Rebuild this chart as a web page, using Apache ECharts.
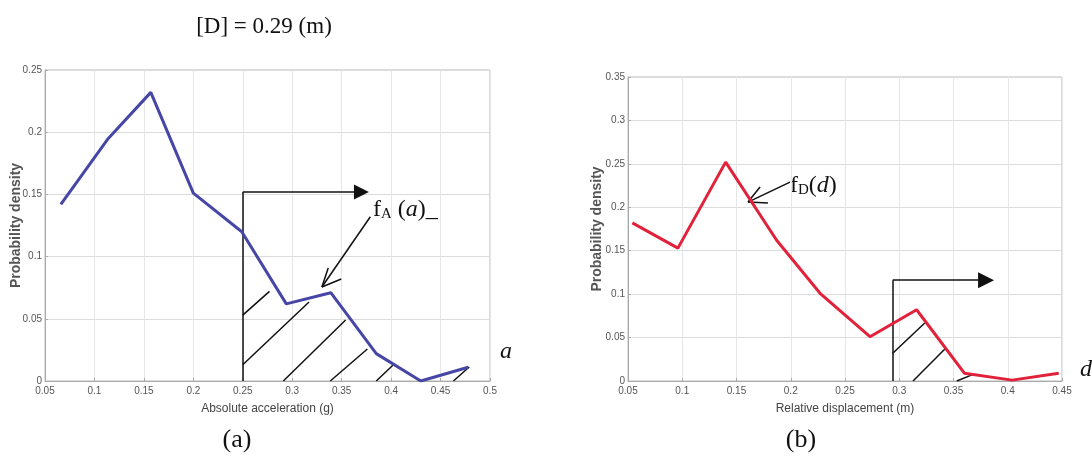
<!DOCTYPE html>
<html><head><meta charset="utf-8">
<script src="https://cdn.jsdelivr.net/npm/echarts@6/dist/echarts.min.js"></script>
<style>html,body{margin:0;padding:0;background:#fff}#c{width:1092px;height:462px}</style>
</head><body><div id="c"></div>
<script>
// ---- data ----
const accelX = [0.066, 0.114, 0.157, 0.200, 0.249, 0.294, 0.339, 0.385, 0.430, 0.478];
const densA  = [0.142, 0.195, 0.232, 0.151, 0.120, 0.062, 0.071, 0.022, 0.000, 0.011];
const dispX  = [0.054, 0.096, 0.140, 0.187, 0.227, 0.273, 0.316, 0.360, 0.404, 0.447];
const densD  = [0.182, 0.153, 0.252, 0.162, 0.101, 0.051, 0.082, 0.009, 0.001, 0.009];

const titleText = '[D] = 0.29 (m)';
const xNameA = 'Absolute acceleration (g)';
const xNameD = 'Relative displacement (m)';
const yName = 'Probability density';

// annotation geometry in data units
const limitA = 0.25, boxTopA = 0.152, arrowEndA = 0.370;
const limitD = 0.294, boxTopD = 0.116, arrowEndD = 0.380;
const hatchA = [
  [[0.25, 0.053], [0.277, 0.072]],
  [[0.25, 0.013], [0.317, 0.0635]],
  [[0.291, 0], [0.354, 0.049]],
  [[0.3385, 0], [0.376, 0.0257]],
  [[0.385, 0], [0.402, 0.0129]],
  [[0.463, 0], [0.479, 0.0113]]
];
const pointerA = [[[0.379, 0.132], [0.330, 0.0756]], [[0.330, 0.0756], [0.3496, 0.082]], [[0.330, 0.0756], [0.3364, 0.0909]]];
const hatchD = [
  [[0.294, 0.032], [0.3235, 0.0668]],
  [[0.3127, 0], [0.343, 0.038]],
  [[0.353, 0], [0.367, 0.007]]
];
const pointerD = [[[0.1993, 0.229], [0.1606, 0.206]], [[0.1606, 0.206], [0.179, 0.205]], [[0.1606, 0.206], [0.1717, 0.2233]]];

const chart = echarts.init(document.getElementById('c'), null, {renderer: 'canvas'});
const tickFont = {fontFamily: "'Liberation Sans Narrow','Liberation Sans',sans-serif", fontSize: 10, color: '#555'};
function xAxis(idx, min, max, name) {
  return {type: 'value', gridIndex: idx, min: min, max: max, interval: 0.05,
    name: name, nameLocation: 'middle', nameGap: 22,
    nameTextStyle: {fontFamily: "'Liberation Sans Narrow','Liberation Sans',sans-serif", fontSize: 12, color: '#444'},
    axisLine: {show: true, lineStyle: {color: '#aaa'}},
    axisTick: {show: true, inside: true, length: 3, lineStyle: {color: '#aaa'}},
    axisLabel: Object.assign({margin: 5}, tickFont),
    splitLine: {show: true, lineStyle: {color: '#e6e6e6'}}};
}
function yAxis(idx, max, gap) {
  return {type: 'value', gridIndex: idx, min: 0, max: max, interval: 0.05,
    name: yName, nameLocation: 'middle', nameGap: gap, nameMoveOverlap: false,
    nameTextStyle: {fontFamily: "'Liberation Sans','Arial',sans-serif", fontSize: 14, fontWeight: 'bold', color: '#555'},
    axisLine: {show: true, lineStyle: {color: '#aaa'}},
    axisTick: {show: true, inside: true, length: 3, lineStyle: {color: '#aaa'}},
    axisLabel: Object.assign({margin: 3}, tickFont),
    splitLine: {show: true, lineStyle: {color: '#dcdcdc'}}};
}
function segs(idx, list, extra) {
  return Object.assign({type: 'lines', coordinateSystem: 'cartesian2d', xAxisIndex: idx, yAxisIndex: idx,
    silent: true, symbol: 'none', z: 3,
    lineStyle: {color: '#111', width: 1.5, opacity: 1, curveness: 0},
    data: list.map(c => ({coords: c}))}, extra || {});
}
const serif = "'Liberation Serif','Times New Roman',serif";
chart.setOption({
  animation: false,
  grid: [
    {left: 45, right: 602, top: 70, bottom: 81, show: true, borderColor: '#bbb', borderWidth: 1},
    {left: 628, right: 30, top: 77, bottom: 81, show: true, borderColor: '#bbb', borderWidth: 1}
  ],
  xAxis: [xAxis(0, 0.05, 0.5, xNameA), xAxis(1, 0.05, 0.45, xNameD)],
  yAxis: [yAxis(0, 0.25, 22), yAxis(1, 0.35, 24)],
  series: [
    {type: 'line', xAxisIndex: 0, yAxisIndex: 0, showSymbol: false, symbol: 'none', z: 4,
      lineStyle: {color: '#4646a6', width: 3}, data: accelX.map((x, i) => [x, densA[i]])},
    {type: 'line', xAxisIndex: 1, yAxisIndex: 1, showSymbol: false, symbol: 'none', z: 4,
      lineStyle: {color: '#e2213a', width: 3}, data: dispX.map((x, i) => [x, densD[i]])},
    segs(0, hatchA.concat(pointerA).concat([[[limitA, 0], [limitA, boxTopA]]])),
    segs(0, [[[limitA, boxTopA], [arrowEndA, boxTopA]]], {symbol: ['none', 'triangle'], symbolSize: [13, 15]}),
    segs(1, hatchD.concat(pointerD).concat([[[limitD, 0], [limitD, boxTopD]]])),
    segs(1, [[[limitD, boxTopD], [arrowEndD, boxTopD]]], {symbol: ['none', 'triangle'], symbolSize: [14, 16]})
  ],
  graphic: [
    {type: 'text', x: 264, y: 27, style: {text: titleText, font: "23px " + serif, fill: '#111', textAlign: 'center', textVerticalAlign: 'middle'}},
    {type: 'text', x: 237, y: 440, style: {text: '(a)', font: "26px " + serif, fill: '#111', textAlign: 'center', textVerticalAlign: 'middle'}},
    {type: 'text', x: 801, y: 440, style: {text: '(b)', font: "26px " + serif, fill: '#111', textAlign: 'center', textVerticalAlign: 'middle'}},
    {type: 'text', x: 506, y: 352, style: {text: 'a', font: "italic 24px " + serif, fill: '#111', textAlign: 'center', textVerticalAlign: 'middle'}},
    {type: 'text', x: 1086, y: 370, style: {text: 'd', font: "italic 24px " + serif, fill: '#111', textAlign: 'center', textVerticalAlign: 'middle'}},
    {type: 'text', x: 373, y: 194, style: {
      text: '{f|f}{s|A}{t| (}{i|a}{t|)_}', fill: '#111',
      rich: {f: {fontFamily: serif, fontSize: 24, lineHeight: 28, verticalAlign: 'bottom'},
             s: {fontFamily: serif, fontSize: 15, lineHeight: 28, verticalAlign: 'bottom'},
             t: {fontFamily: serif, fontSize: 24, lineHeight: 28, verticalAlign: 'bottom'},
             i: {fontFamily: serif, fontSize: 24, fontStyle: 'italic', lineHeight: 28, verticalAlign: 'bottom'}}}},
    {type: 'text', x: 790, y: 170, style: {
      text: '{f|f}{s|D}{t|(}{i|d}{t|)}', fill: '#111',
      rich: {f: {fontFamily: serif, fontSize: 24, lineHeight: 28, verticalAlign: 'bottom'},
             s: {fontFamily: serif, fontSize: 15, lineHeight: 28, verticalAlign: 'bottom'},
             t: {fontFamily: serif, fontSize: 24, lineHeight: 28, verticalAlign: 'bottom'},
             i: {fontFamily: serif, fontSize: 24, fontStyle: 'italic', lineHeight: 28, verticalAlign: 'bottom'}}}}
  ]
});
</script></body></html>
